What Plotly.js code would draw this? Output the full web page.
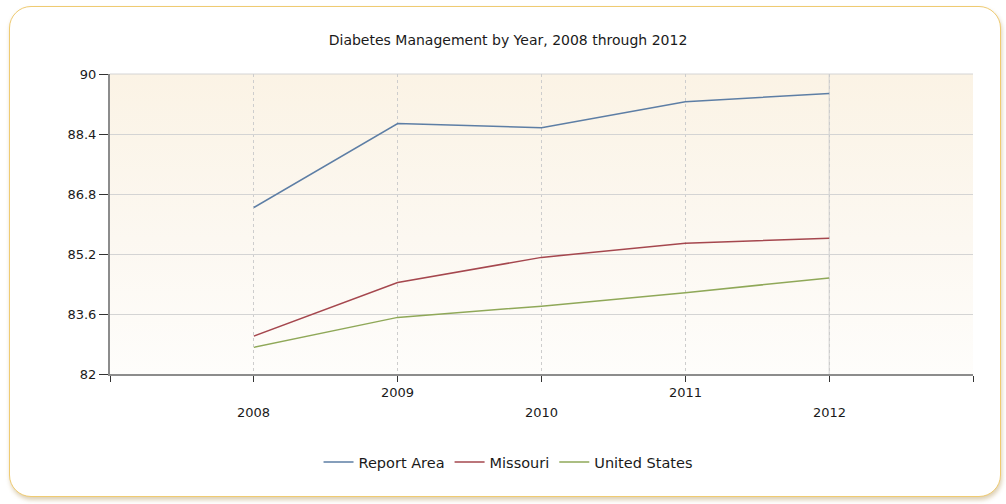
<!DOCTYPE html>
<html>
<head>
<meta charset="utf-8">
<script src="https://cdn.plot.ly/plotly-3.0.1.min.js"></script>
<style>
  html, body { margin: 0; padding: 0; width: 1006px; height: 504px; background: #ffffff; overflow: hidden; }
  #frame { position: absolute; left: 9px; top: 6px; width: 992px; height: 491px; box-sizing: border-box;
           border: 1.5px solid #efcb72; border-radius: 22px; box-shadow: 1px 3px 4px rgba(180,150,90,0.45); background: #fff; }
  #bg { position: absolute; left: 110px; top: 74px; width: 863px; height: 300px;
        background: linear-gradient(to bottom, #fbf3e5 0%, #fcf8f1 55%, #fefdfb 100%); }
  #chart { position: absolute; left: 0; top: 0; width: 1006px; height: 504px; }
</style>
</head>
<body>
<div id="frame"></div>
<div id="bg"></div>
<div id="chart"></div>
<script>
const years = [2008, 2009, 2010, 2011, 2012];
const reportArea = [86.44, 88.68, 88.57, 89.26, 89.48];
const missouri = [83.01, 84.44, 85.11, 85.49, 85.62];
const unitedStates = [82.71, 83.51, 83.81, 84.17, 84.56];
const seriesNames = ['Report Area', 'Missouri', 'United States'];
const yTicks = [82, 83.6, 85.2, 86.8, 88.4, 90];
const titleText = 'Diabetes Management by Year, 2008 through 2012';

const colors = ['#5d7ea5', '#a5474e', '#8fa858'];
const fam = '"DejaVu Sans", Verdana, sans-serif';
const titleFont = { family: fam, size: 14, color: '#1a1a1a' };
const legendFont = { family: fam, size: 14.5, color: '#1a1a1a' };
const tickFont = { family: fam, size: 13, color: '#1a1a1a' };

const traces = [reportArea, missouri, unitedStates].map((vals, i) => ({
  type: 'scatter', mode: 'lines', x: years, y: vals, name: seriesNames[i],
  line: { color: colors[i], width: 1.5 }
}));

const annotations = years.map((yr, i) => ({
  x: yr, xref: 'x', yref: 'paper', y: i % 2 === 0 ? -0.13 : -0.06,
  yanchor: 'middle', xanchor: 'center', showarrow: false,
  text: String(yr), font: tickFont
}));

const layout = {
  width: 1006, height: 504,
  margin: { l: 110, r: 33, t: 74, b: 130 },
  paper_bgcolor: 'rgba(0,0,0,0)', plot_bgcolor: 'rgba(0,0,0,0)',
  font: tickFont,
  title: { text: titleText, font: titleFont, x: 0.505, xref: 'container', xanchor: 'center', y: 1 - 40/504, yref: 'container', yanchor: 'middle' },
  showlegend: true,
  legend: { orientation: 'h', x: 0.505, xref: 'container', xanchor: 'center', y: 1 - 462/504, yref: 'container', yanchor: 'middle',
            font: legendFont, bgcolor: 'rgba(0,0,0,0)', itemwidth: 30, tracegroupgap: 0 },
  xaxis: {
    range: [years[0] - 1, years[years.length - 1] + 1],
    tickvals: [years[0] - 1].concat(years, [years[years.length - 1] + 1]),
    showticklabels: false, ticks: 'outside', ticklen: 6, tickcolor: '#333', tickwidth: 1,
    showgrid: true, gridcolor: '#cdcdcd', griddash: 'dot', gridwidth: 1,
    showline: true, linecolor: '#8c8c8c', linewidth: 2, zeroline: false
  },
  yaxis: {
    range: [yTicks[0], yTicks[yTicks.length - 1]],
    tickvals: yTicks, ticktext: yTicks.map(v => String(v)),
    ticks: 'outside', ticklen: 9, tickcolor: '#333', tickwidth: 1,
    showgrid: true, gridcolor: '#d4d4d4', gridwidth: 1,
    showline: true, linecolor: '#8c8c8c', linewidth: 2, zeroline: false,
    tickfont: tickFont
  },
  annotations: annotations,
  shapes: [{ type: 'line', xref: 'x', yref: 'paper', x0: years[years.length - 1], x1: years[years.length - 1], y0: 0, y1: 1,
             line: { color: '#cfcfcf', width: 1 }, layer: 'below' },
           { type: 'line', xref: 'paper', yref: 'paper', x0: 0, x1: 1, y0: 1, y1: 1,
             line: { color: '#d4d4d4', width: 1 }, layer: 'below' }]
};

Plotly.newPlot('chart', traces, layout, { displayModeBar: false, staticPlot: true });
</script>
</body>
</html>
